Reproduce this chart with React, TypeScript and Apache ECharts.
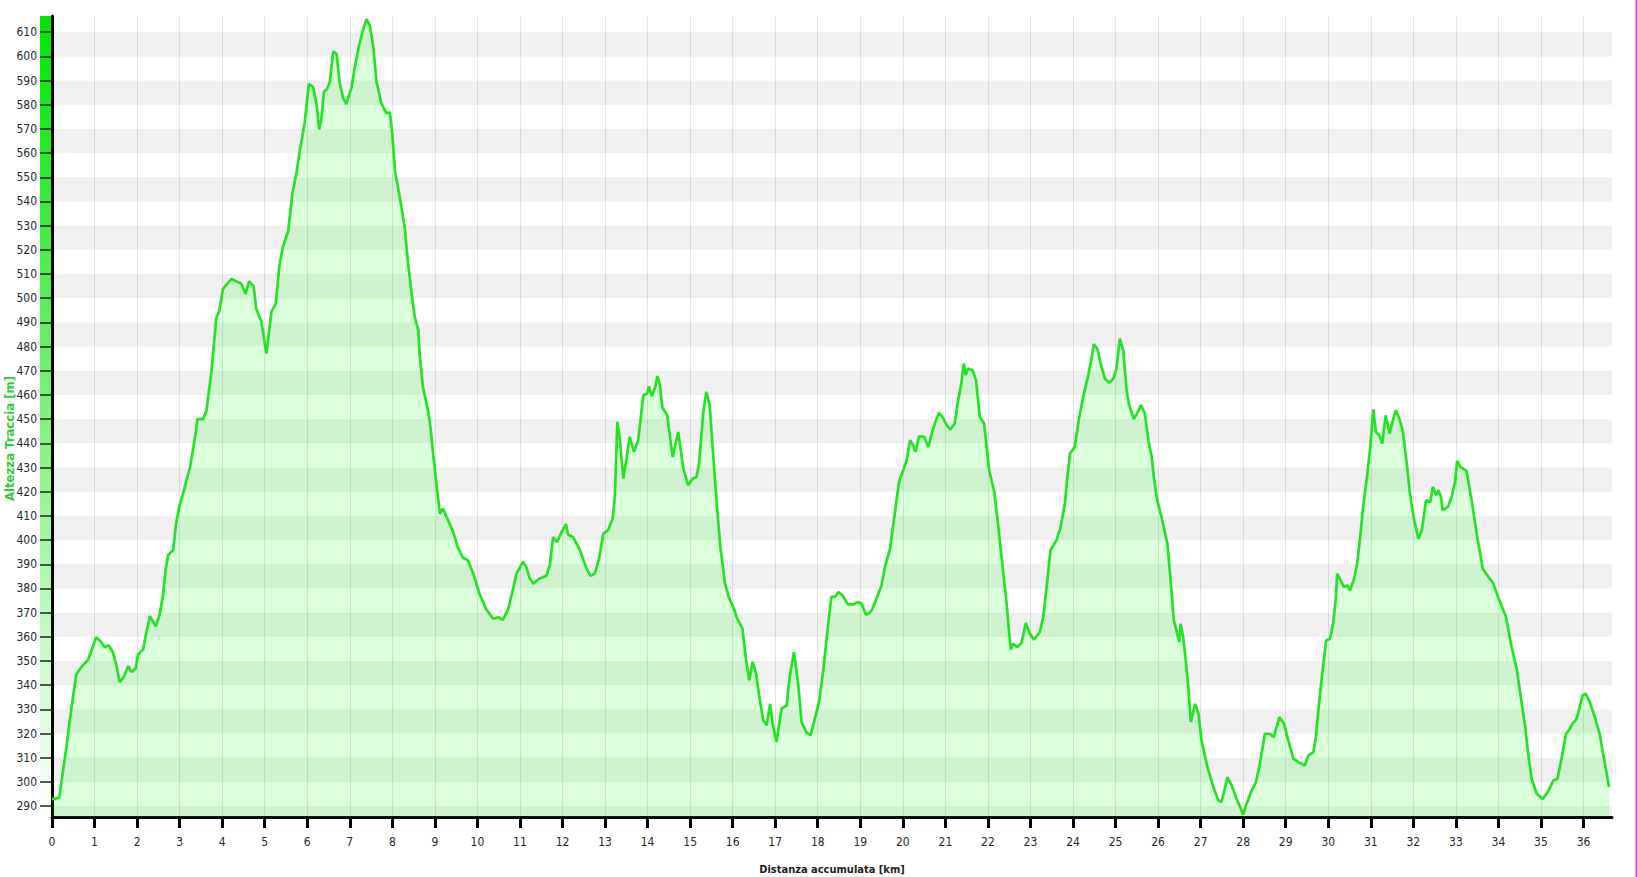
import React, { useEffect, useRef } from "react";
import * as echarts from "echarts";

// Distance along the track [km]
const distKm = [
  0.0, 0.06, 0.17, 0.34, 0.46, 0.57, 0.69, 0.85, 1.04, 1.16, 1.24, 1.33, 1.36, 1.43, 1.51, 1.59, 1.69, 1.79, 1.87, 1.97,
  2.02, 2.14, 2.22, 2.3, 2.44, 2.53, 2.61, 2.67, 2.73, 2.85, 2.91, 3.0, 3.07, 3.24, 3.36, 3.42, 3.55, 3.63, 3.75, 3.86,
  3.93, 4.02, 4.22, 4.45, 4.55, 4.63, 4.74, 4.8, 4.92, 5.04, 5.16, 5.26, 5.35, 5.43, 5.55, 5.65, 5.75, 5.82, 5.94, 6.04,
  6.14, 6.22, 6.28, 6.33, 6.39, 6.47, 6.53, 6.61, 6.69, 6.76, 6.84, 6.92, 7.04, 7.12, 7.22, 7.31, 7.39, 7.47, 7.55, 7.63,
  7.74, 7.86, 7.94, 8.0, 8.06, 8.17, 8.29, 8.37, 8.47, 8.53, 8.61, 8.64, 8.72, 8.84, 8.9, 8.96, 9.04, 9.12, 9.19, 9.27,
  9.43, 9.54, 9.66, 9.78, 9.9, 10.05, 10.21, 10.37, 10.49, 10.6, 10.72, 10.84, 10.92, 10.99, 11.07, 11.15, 11.23, 11.31, 11.46, 11.62,
  11.7, 11.78, 11.87, 11.98, 12.08, 12.13, 12.25, 12.41, 12.56, 12.66, 12.76, 12.86, 12.96, 13.07, 13.18, 13.23, 13.29, 13.35, 13.43, 13.51,
  13.58, 13.68, 13.78, 13.9, 13.99, 14.03, 14.1, 14.18, 14.23, 14.29, 14.35, 14.46, 14.59, 14.72, 14.84, 14.95, 15.06, 15.15, 15.21, 15.31,
  15.38, 15.46, 15.54, 15.62, 15.71, 15.82, 15.92, 16.03, 16.09, 16.23, 16.31, 16.39, 16.47, 16.55, 16.64, 16.72, 16.8, 16.88, 16.94, 17.03,
  17.15, 17.27, 17.34, 17.44, 17.54, 17.62, 17.73, 17.83, 17.93, 18.03, 18.13, 18.22, 18.32, 18.42, 18.48, 18.58, 18.71, 18.83, 18.95, 19.03,
  19.13, 19.2, 19.27, 19.38, 19.5, 19.58, 19.7, 19.81, 19.91, 20.01, 20.09, 20.17, 20.24, 20.3, 20.38, 20.5, 20.6, 20.68, 20.75, 20.85,
  20.93, 21.03, 21.12, 21.22, 21.3, 21.38, 21.43, 21.48, 21.53, 21.64, 21.72, 21.81, 21.91, 21.97, 22.03, 22.15, 22.22, 22.32, 22.44, 22.5,
  22.54, 22.59, 22.69, 22.79, 22.89, 22.98, 23.08, 23.22, 23.3, 23.38, 23.47, 23.61, 23.71, 23.81, 23.86, 23.93, 24.04, 24.14, 24.24, 24.36,
  24.44, 24.49, 24.57, 24.65, 24.75, 24.85, 24.95, 25.02, 25.1, 25.18, 25.26, 25.32, 25.43, 25.51, 25.6, 25.69, 25.77, 25.85, 25.9, 25.98,
  26.08, 26.22, 26.26, 26.32, 26.37, 26.43, 26.5, 26.53, 26.59, 26.65, 26.71, 26.77, 26.87, 26.95, 27.02, 27.16, 27.3, 27.41, 27.49, 27.56,
  27.63, 27.73, 27.83, 27.93, 28.0, 28.08, 28.2, 28.3, 28.4, 28.51, 28.63, 28.72, 28.85, 28.96, 29.06, 29.18, 29.3, 29.45, 29.53, 29.65,
  29.71, 29.76, 29.84, 29.95, 30.04, 30.12, 30.18, 30.21, 30.29, 30.37, 30.45, 30.51, 30.61, 30.68, 30.75, 30.82, 30.9, 30.98, 31.06, 31.12,
  31.2, 31.27, 31.35, 31.44, 31.52, 31.59, 31.67, 31.75, 31.85, 31.92, 32.02, 32.12, 32.2, 32.3, 32.4, 32.46, 32.54, 32.59, 32.65, 32.69,
  32.81, 32.9, 32.98, 33.03, 33.11, 33.25, 33.37, 33.49, 33.63, 33.74, 33.88, 34.02, 34.18, 34.31, 34.43, 34.52, 34.63, 34.71, 34.78, 34.9,
  35.04, 35.16, 35.29, 35.39, 35.49, 35.59, 35.68, 35.74, 35.84, 35.9, 35.98, 36.05, 36.15, 36.29, 36.38, 36.46, 36.52, 36.6,
];

// Elevation of the track [m]
const elevM = [
  293, 293, 293.5, 314.6, 331, 344.4, 347.5, 350.6, 359.8, 357.8, 355.7, 356.5, 355.7, 353.7, 348.5, 341.3, 343.4, 347.9, 345.4, 347.1,
  352.6, 354.7, 361.9, 368.5, 364.4, 369.1, 377.3, 387.6, 393.8, 395.9, 406.1, 414.4, 418.5, 429.8, 442.2, 450, 450, 453.5, 470, 491.6,
  494.6, 503.9, 508, 506, 501.8, 507, 504.9, 495.7, 490.5, 477.1, 494.6, 497.7, 514.2, 521.4, 527.6, 543, 552.3, 560.5, 572.8, 588.7,
  587.2, 580, 569.8, 573.9, 585.2, 586.7, 589.3, 602.1, 601, 589.3, 582.9, 580.3, 587.1, 595.7, 604.7, 610.7, 615.4, 612.8, 604.2, 589.3,
  580.7, 576.5, 576.9, 567.9, 552.9, 542.3, 529.5, 514.5, 499.5, 492, 486.7, 477.1, 463.2, 453.6, 446.1, 435.4, 422.6, 410.8, 413, 409.8,
  403.4, 397, 392.7, 391.6, 386.3, 377.7, 371.3, 367.5, 368.1, 367, 371.3, 379.9, 386.3, 388.4, 391, 388.8, 384.1, 382, 384.1, 385.2,
  389.5, 401.2, 399.1, 403.4, 406.6, 402.3, 401.2, 395.9, 388.4, 385.2, 386.1, 392.3, 402.7, 404.1, 408.9, 417.8, 448.9, 441.3, 425.4, 434.4,
  442.7, 436.5, 441.3, 459.9, 460.6, 463.6, 459.5, 463.3, 467.8, 464, 454.8, 451.6, 434.4, 444.7, 429.6, 422.7, 425.4, 426.1, 431.6, 453,
  461.3, 455.8, 435.8, 416.5, 397.2, 382, 375.8, 371.6, 368.2, 363.4, 351, 342, 349.6, 344.8, 333.7, 325.5, 323.4, 332.3, 324.1, 316.5,
  330.3, 331.6, 343.4, 353.7, 340.6, 324.8, 320.6, 319.2, 326.1, 333, 346.1, 361.3, 376.5, 376.7, 378.5, 377.2, 373.4, 373.4, 374.4, 373.7,
  369.3, 369.6, 371, 375.8, 381.3, 388.9, 396.5, 410.9, 424, 428.9, 433, 441.3, 439.2, 436.5, 442.9, 442.7, 438.5, 444, 448.2, 452.6,
  450.9, 447.5, 445.7, 448.2, 457.8, 465.4, 473, 468.2, 470.9, 470.2, 466.1, 450.9, 448.2, 438.5, 428.9, 419.9, 409.6, 393, 373.7, 361.3,
  354.7, 357.2, 355.8, 357.4, 365.7, 361.6, 358.8, 362, 368.2, 380.6, 395.8, 399.9, 405.4, 415.1, 424.7, 435.8, 438.5, 450.2, 459.2, 468.2,
  475.8, 481, 479.2, 473, 466.8, 465, 466.8, 470.9, 483.3, 478.5, 462, 455.8, 450, 452.6, 455.8, 452.3, 441.3, 434.4, 426.1, 416.5,
  409.6, 398.5, 390.3, 377.8, 366.8, 362.7, 357.9, 365.4, 359.9, 350.3, 339.2, 324.8, 332.3, 328.2, 317.2, 306.1, 297.9, 292.6, 291.7, 296.5,
  302, 298.6, 293.7, 289.6, 286.5, 291, 296.5, 299.9, 308.2, 319.9, 319.9, 318.5, 326.8, 324.1, 317.2, 309.6, 308.2, 306.8, 310.9, 312.3,
  318.5, 328.2, 342, 358.5, 359.2, 366.1, 376.5, 386.1, 383.4, 380.6, 381.3, 379.2, 384.1, 390.3, 401.3, 413.7, 424.7, 437.1, 454, 444.7,
  443.4, 439.9, 451.6, 444, 449.6, 453.7, 450.2, 445.4, 430.9, 419.2, 408.2, 400.6, 404.1, 416.5, 415.8, 422, 418.5, 420.6, 417.8, 412.3,
  413.7, 417.8, 424, 432.7, 430.2, 428.6, 416.5, 402.7, 388.2, 385.4, 382, 375.1, 368.2, 355.8, 346.8, 335.8, 322.7, 310.3, 301.3, 295.1,
  293, 295.8, 300.6, 301.3, 310.3, 319.9, 322, 324.1, 326.1, 330.3, 335.8, 336.5, 333, 325.4, 319.9, 311.7, 306.1, 297.9,
];

// Axis ticks
const xTicks = [
  0, 1, 2, 3, 4, 5, 6, 7, 8, 9, 10, 11, 12, 13, 14, 15, 16, 17, 18, 19, 20, 21, 22, 23, 24, 25, 26, 27, 28, 29, 30, 31,
  32, 33, 34, 35, 36,
];
const yTicks = [
  290, 300, 310, 320, 330, 340, 350, 360, 370, 380, 390, 400, 410, 420, 430, 440, 450, 460, 470, 480, 490, 500, 510,
  520, 530, 540, 550, 560, 570, 580, 590, 600, 610,
];
// Lower bounds of the shaded horizontal bands (each 10 m tall)
const bandStarts = [280, 300, 320, 340, 360, 380, 400, 420, 440, 460, 480, 500, 520, 540, 560, 580, 600];

const X_MIN = 0;
const X_MAX = 36.67;
const Y_MIN = 285.5;
const Y_MAX = 616.7;

const FONT = "'DejaVu Sans Condensed', 'DejaVu Sans', sans-serif";

export default function App() {
  const ref = useRef<HTMLDivElement>(null);

  useEffect(() => {
    if (!ref.current) return;
    const chart = echarts.init(ref.current, undefined, { renderer: "svg" });

    const points = distKm.map((d, i) => [d, elevM[i]]);
    const bands = bandStarts.map((b) => [
      { yAxis: Math.max(Y_MIN, b) },
      { yAxis: Math.min(Y_MAX, b + 10) },
    ]);

    chart.setOption({
      animation: false,
      backgroundColor: "#ffffff",
      grid: {
        left: 52,
        right: 26,
        top: 16,
        bottom: 60,
        containLabel: false,
        outerBoundsMode: "none",
      },
      xAxis: {
        type: "value",
        min: X_MIN,
        max: X_MAX,
        interval: 1,
        name: "Distanza accumulata [km]",
        nameLocation: "middle",
        nameGap: 47,
        nameMoveOverlap: false,
        nameTextStyle: { fontFamily: FONT, fontSize: 11, fontWeight: "bold", color: "#222" },
        axisLine: { show: true, onZero: false, lineStyle: { color: "#000", width: 3 } },
        axisTick: { show: true, length: 11, lineStyle: { color: "#000", width: 3 }, customValues: xTicks },
        axisLabel: {
          margin: 19,
          fontFamily: FONT,
          fontSize: 12,
          color: "#2a2a2a",
          customValues: xTicks,
        },
        splitLine: { show: true, lineStyle: { color: "#e6e6e6", width: 1 } },
      },
      yAxis: {
        type: "value",
        min: Y_MIN,
        max: Y_MAX,
        name: "Altezza Traccia [m]",
        nameLocation: "middle",
        nameGap: 36,
        nameMoveOverlap: false,
        nameTextStyle: {
          fontFamily: FONT,
          fontSize: 13,
          fontWeight: "bold",
          color: "#33cc33",
          padding: [0, 44, 0, 0],
        },
        axisLine: { show: true, onZero: false, lineStyle: { color: "#000", width: 3 } },
        axisTick: { show: true, length: 12, lineStyle: { color: "#222", width: 1.5 }, customValues: yTicks },
        axisLabel: {
          margin: 15,
          fontFamily: FONT,
          fontSize: 12,
          color: "#2a2a2a",
          customValues: yTicks,
        },
        splitLine: { show: false },
        splitArea: { show: false },
      },
      graphic: [
        {
          type: "rect",
          z: -10,
          shape: { x: 40, y: 16, width: 12, height: 801 },
          style: {
            fill: new echarts.graphic.LinearGradient(0, 0, 0, 1, [
              { offset: 0, color: "#00e400" },
              { offset: 1, color: "#ffffff" },
            ]),
          },
        },
        {
          type: "line",
          shape: { x1: 1636.5, y1: 0, x2: 1636.5, y2: 877 },
          style: { stroke: "#dd44dd", lineWidth: 2 },
        },
      ],
      series: [
        {
          type: "line",
          z: 1,
          data: [],
          silent: true,
          markArea: {
            silent: true,
            itemStyle: { color: "rgba(0,0,0,0.06)" },
            data: bands,
          },
        },
        {
          type: "line",
          z: 3,
          data: points,
          showSymbol: false,
          symbol: "none",
          smooth: false,
          lineStyle: { color: "#26e226", width: 2.7 },
          areaStyle: { color: "rgba(0,255,0,0.2)", origin: "start" },
        },
      ],
    });

    return () => chart.dispose();
  }, []);

  return (
    <div
      ref={ref}
      style={{ position: "fixed", left: 0, top: 0, width: 1638, height: 877, background: "#fff" }}
    />
  );
}
